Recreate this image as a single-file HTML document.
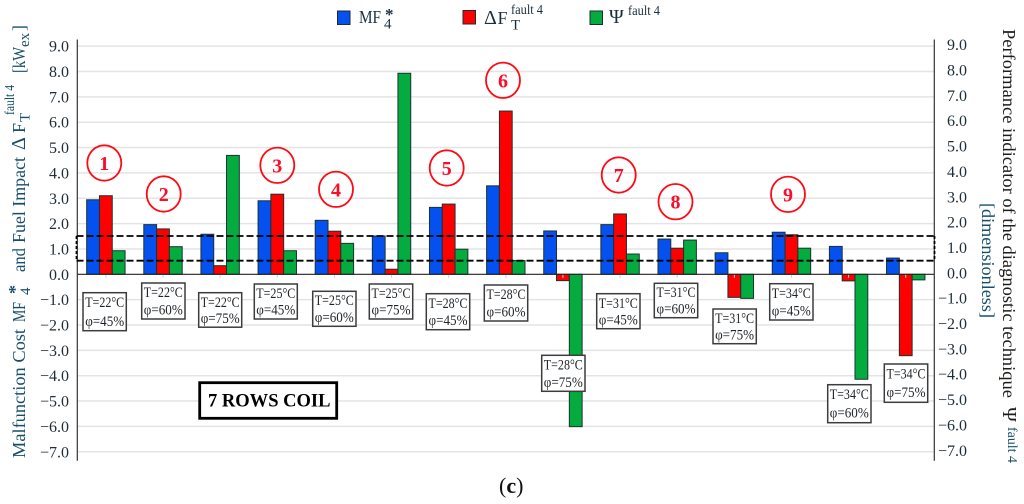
<!DOCTYPE html>
<html>
<head>
<meta charset="utf-8">
<title>7 Rows Coil Chart</title>
<style>
html,body{margin:0;padding:0;background:#fff;width:1024px;height:504px;overflow:hidden}
svg{display:block;font-family:"Liberation Serif",serif}
.lb text{font-size:15px;fill:#1f2429;text-anchor:middle}
.lb rect{fill:#fff;stroke:#3c3c3c;stroke-width:1.5}
.circ ellipse{fill:#fff;fill-opacity:0;stroke:#ff0a14;stroke-width:1.8}
.circ text{font-size:20px;font-weight:bold;fill:#ff0a28;text-anchor:middle}
.t{fill:#174e6c;font-size:18px}
.r{fill:#1f1d1a;font-size:18px}
</style>
</head>
<body>
<svg id="chart" width="1024" height="504" viewBox="0 0 1024 504" xmlns="http://www.w3.org/2000/svg">
  <g id="grid"></g>
  <g id="bars"></g>
  <g id="axes"></g>

  <g fill="none" stroke="#000" stroke-width="1.8" stroke-dasharray="7 3">
    <line x1="76.5" y1="236" x2="934.5" y2="236"/>
    <line x1="76.5" y1="260.7" x2="934.5" y2="260.7"/>
    <line x1="76.5" y1="236" x2="76.5" y2="260.7" stroke-dasharray="3 2"/>
    <line x1="934.5" y1="236" x2="934.5" y2="260.7" stroke-dasharray="3 2"/>
  </g>

  <g>
    <g class="lb"><rect x="83" y="292.7" width="43.3" height="38"/><text x="104.7" y="307" textLength="39" lengthAdjust="spacingAndGlyphs">T=22°C</text><text x="104.7" y="326" textLength="39" lengthAdjust="spacingAndGlyphs">φ=45%</text></g>
    <g class="lb"><rect x="141.7" y="283" width="43.3" height="36"/><text x="163.3" y="297" textLength="39" lengthAdjust="spacingAndGlyphs">T=22°C</text><text x="163.3" y="314.5" textLength="39" lengthAdjust="spacingAndGlyphs">φ=60%</text></g>
    <g class="lb"><rect x="198.7" y="292.7" width="43" height="34.5"/><text x="220.2" y="307" textLength="39" lengthAdjust="spacingAndGlyphs">T=22°C</text><text x="220.2" y="323" textLength="39" lengthAdjust="spacingAndGlyphs">φ=75%</text></g>
    <g class="lb"><rect x="254.3" y="284" width="43" height="35"/><text x="275.8" y="298" textLength="39" lengthAdjust="spacingAndGlyphs">T=25°C</text><text x="275.8" y="314.5" textLength="39" lengthAdjust="spacingAndGlyphs">φ=45%</text></g>
    <g class="lb"><rect x="312.7" y="291.3" width="43.3" height="35"/><text x="334.3" y="305" textLength="39" lengthAdjust="spacingAndGlyphs">T=25°C</text><text x="334.3" y="322" textLength="39" lengthAdjust="spacingAndGlyphs">φ=60%</text></g>
    <g class="lb"><rect x="369.3" y="284" width="43.4" height="35"/><text x="391" y="298" textLength="39" lengthAdjust="spacingAndGlyphs">T=25°C</text><text x="391" y="314.5" textLength="39" lengthAdjust="spacingAndGlyphs">φ=75%</text></g>
    <g class="lb"><rect x="426.3" y="293.7" width="43.4" height="36"/><text x="448" y="308" textLength="39" lengthAdjust="spacingAndGlyphs">T=28°C</text><text x="448" y="325" textLength="39" lengthAdjust="spacingAndGlyphs">φ=45%</text></g>
    <g class="lb"><rect x="484.3" y="285" width="43.4" height="36"/><text x="506" y="299" textLength="39" lengthAdjust="spacingAndGlyphs">T=28°C</text><text x="506" y="316.5" textLength="39" lengthAdjust="spacingAndGlyphs">φ=60%</text></g>
    <g class="lb"><rect x="541.7" y="355.3" width="43.3" height="36"/><text x="563.3" y="369.5" textLength="39" lengthAdjust="spacingAndGlyphs">T=28°C</text><text x="563.3" y="387" textLength="39" lengthAdjust="spacingAndGlyphs">φ=75%</text></g>
    <g class="lb"><rect x="596.7" y="293.7" width="43.3" height="35"/><text x="618.3" y="308" textLength="39" lengthAdjust="spacingAndGlyphs">T=31°C</text><text x="618.3" y="324.5" textLength="39" lengthAdjust="spacingAndGlyphs">φ=45%</text></g>
    <g class="lb"><rect x="654.3" y="283.3" width="43.4" height="34.4"/><text x="676" y="297" textLength="39" lengthAdjust="spacingAndGlyphs">T=31°C</text><text x="676" y="313.5" textLength="39" lengthAdjust="spacingAndGlyphs">φ=60%</text></g>
    <g class="lb"><rect x="713" y="309" width="43.3" height="34.7"/><text x="734.6" y="323" textLength="39" lengthAdjust="spacingAndGlyphs">T=31°C</text><text x="734.6" y="339.5" textLength="39" lengthAdjust="spacingAndGlyphs">φ=75%</text></g>
    <g class="lb"><rect x="769.7" y="283.7" width="43.3" height="36.3"/><text x="791.3" y="298" textLength="39" lengthAdjust="spacingAndGlyphs">T=34°C</text><text x="791.3" y="315.5" textLength="39" lengthAdjust="spacingAndGlyphs">φ=45%</text></g>
    <g class="lb"><rect x="827.7" y="384.7" width="43.3" height="38"/><text x="849.3" y="399" textLength="39" lengthAdjust="spacingAndGlyphs">T=34°C</text><text x="849.3" y="417.5" textLength="39" lengthAdjust="spacingAndGlyphs">φ=60%</text></g>
    <g class="lb"><rect x="884.3" y="364" width="43.4" height="38.3"/><text x="906" y="378.5" textLength="39" lengthAdjust="spacingAndGlyphs">T=34°C</text><text x="906" y="397" textLength="39" lengthAdjust="spacingAndGlyphs">φ=75%</text></g>
  </g>

  <g>
    <g class="circ"><ellipse cx="104.3" cy="163" rx="17" ry="17.7"/><text x="104.3" y="170">1</text></g>
    <g class="circ"><ellipse cx="163.7" cy="194" rx="17" ry="17.7"/><text x="163.7" y="201">2</text></g>
    <g class="circ"><ellipse cx="277.3" cy="165.3" rx="17" ry="17.7"/><text x="277.3" y="172.3">3</text></g>
    <g class="circ"><ellipse cx="336" cy="189.3" rx="17" ry="17.7"/><text x="336" y="196.3">4</text></g>
    <g class="circ"><ellipse cx="446.7" cy="168" rx="17" ry="17.7"/><text x="446.7" y="175">5</text></g>
    <g class="circ"><ellipse cx="503" cy="80.3" rx="17" ry="17.7"/><text x="503" y="87.3">6</text></g>
    <g class="circ"><ellipse cx="618.7" cy="175" rx="17" ry="17.7"/><text x="618.7" y="182">7</text></g>
    <g class="circ"><ellipse cx="675.5" cy="201.7" rx="17" ry="17.7"/><text x="675.5" y="208.7">8</text></g>
    <g class="circ"><ellipse cx="788" cy="194.3" rx="17" ry="17.7"/><text x="788" y="201.3">9</text></g>
  </g>

  <g>
    <rect x="199.7" y="382.7" width="137" height="35.6" fill="#fff" stroke="#000" stroke-width="2.8"/>
    <text x="208" y="406.7" font-size="19" font-weight="bold" fill="#000" textLength="122.5" lengthAdjust="spacingAndGlyphs">7 ROWS COIL</text>
  </g>

  <g fill="#1a2f3e">
    <g>
      <rect x="337.5" y="11" width="12.5" height="13.5" fill="#0451f0" stroke="#1a3030"/>
      <text x="359" y="23" font-size="18" textLength="22" lengthAdjust="spacingAndGlyphs">MF</text>
      <text x="385" y="20" font-size="17" font-weight="bold">*</text>
      <text x="384" y="28.7" font-size="15">4</text>
    </g>
    <g>
      <rect x="463" y="10.5" width="12.5" height="13.5" fill="#ff0000" stroke="#1a3030"/>
      <text x="484" y="24" font-size="20">Δ</text>
      <text x="497.5" y="24" font-size="18">F</text>
      <text x="511" y="14" font-size="14" textLength="32" lengthAdjust="spacingAndGlyphs">fault 4</text>
      <text x="511" y="29.3" font-size="15">T</text>
    </g>
    <g>
      <rect x="590" y="11" width="12.5" height="13.5" fill="#04ab3e" stroke="#1a3030"/>
      <text x="609" y="23" font-size="20">Ψ</text>
      <text x="628" y="15" font-size="14" textLength="32" lengthAdjust="spacingAndGlyphs">fault 4</text>
    </g>
  </g>

  <g>
    <text class="t" transform="translate(25,458) rotate(-90)" textLength="129" lengthAdjust="spacingAndGlyphs">Malfunction Cost</text>
    <text class="t" transform="translate(25,322) rotate(-90)" textLength="20" lengthAdjust="spacingAndGlyphs">MF</text>
    <text class="t" transform="translate(21,294) rotate(-90)" style="font-weight:bold">*</text>
    <text class="t" transform="translate(30,295) rotate(-90)" style="font-size:15px">4</text>
    <text class="t" transform="translate(25,272) rotate(-90)" textLength="24" lengthAdjust="spacingAndGlyphs">and</text>
    <text class="t" transform="translate(25,243) rotate(-90)" textLength="86" lengthAdjust="spacingAndGlyphs">Fuel Impact</text>
    <text class="t" transform="translate(25,150) rotate(-90)" style="font-size:20px">Δ</text>
    <text class="t" transform="translate(25,133) rotate(-90)">F</text>
    <text class="t" transform="translate(14,115) rotate(-90)" style="font-size:14px" textLength="30" lengthAdjust="spacingAndGlyphs">fault 4</text>
    <text class="t" transform="translate(29.5,122) rotate(-90)" style="font-size:15px">T</text>
    <text class="t" transform="translate(25,73) rotate(-90)" textLength="26" lengthAdjust="spacingAndGlyphs">[kW</text>
    <text class="t" transform="translate(29,47) rotate(-90)" style="font-size:15px">ex</text>
    <text class="t" transform="translate(25,31) rotate(-90)">]</text>
  </g>

  <g>
    <text class="r" transform="translate(1003,29) rotate(90)" textLength="369" lengthAdjust="spacingAndGlyphs">Performance indicator of the diagnostic technique</text>
    <text class="t" transform="translate(982,203) rotate(90)" textLength="115" lengthAdjust="spacingAndGlyphs">[dimensionless]</text>
    <text class="r" transform="translate(1003,407) rotate(90)" style="font-size:20px">Ψ</text>
    <text class="t" transform="translate(1008,427) rotate(90)" style="font-size:14px" textLength="36" lengthAdjust="spacingAndGlyphs">fault 4</text>
  </g>

  <g>
    <text x="499" y="493" font-size="22" fill="#111">(<tspan font-weight="bold">c</tspan>)</text>
  </g>
</svg>

<script>
const categories = ["T22 H45","T22 H60","T22 H75","T25 H45","T25 H60","T25 H75","T28 H45","T28 H60","T28 H75","T31 H45","T31 H60","T31 H75","T34 H45","T34 H60","T34 H75"];
const mfValues  = [2.94,1.96,1.58,2.90,2.13,1.51,2.64,3.49,1.71,1.96,1.39,0.85,1.66,1.10,0.64];
const dfValues  = [3.10,1.79,0.34,3.16,1.70,0.20,2.77,6.44,-0.25,2.38,1.03,-0.91,1.56,-0.26,-3.21];
const psiValues = [0.93,1.09,4.69,0.93,1.22,7.93,0.99,0.54,-6.01,0.80,1.35,-0.95,1.03,-4.14,-0.22];
const tickValues = [9,8,7,6,5,4,3,2,1,0,-1,-2,-3,-4,-5,-6,-7];

const NS = "http://www.w3.org/2000/svg";
const plotLeft = 77.3, plotRight = 934.3, zeroY = 274.3, unitPx = 25.35, barW = 12.8;
function xScale(i){ return plotLeft + (i + 0.5) * (plotRight - plotLeft) / categories.length; }
function yScale(v){ return zeroY - v * unitPx; }
function make(tag, attrs, parent){
  const el = document.createElementNS(NS, tag);
  for (const k in attrs) el.setAttribute(k, attrs[k]);
  parent.appendChild(el);
  return el;
}
function fmt(v){ return (v < 0 ? "\u2212" : "") + Math.abs(v).toFixed(1); }

const gridG = document.getElementById("grid");
const axesG = document.getElementById("axes");
const barsG = document.getElementById("bars");

tickValues.forEach(function(v){
  if (v !== 0) {
    const g = make("line", {x1: plotLeft, x2: plotRight, y1: yScale(v), y2: yScale(v), stroke: "#e4e4e4", "stroke-width": 1.5}, gridG);
    
    
  }
  const l = make("text", {x: 69, y: yScale(v) + 5.5, "text-anchor": "end", "font-size": 16, fill: "#1e2c36"}, axesG);
  l.textContent = fmt(v);
  
  
  const r = make("text", {x: 967, y: yScale(v) + 4, "text-anchor": "end", "font-size": 16, fill: "#1e2c36"}, axesG);
  r.textContent = fmt(v);
  
  
});

const seriesList = [
  {values: mfValues,  color: "#0451f0", key: 0},
  {values: dfValues,  color: "#ff0000", key: 1},
  {values: psiValues, color: "#04ab3e", key: 2}
];
seriesList.forEach(function(s){
  s.values.forEach(function(v, i){
    const top = Math.min(yScale(v), yScale(0));
    const h = Math.abs(yScale(v) - yScale(0));
    const b = make("rect", {x: xScale(i) + (s.key - 1.5) * barW, y: top, width: barW, height: h, fill: s.color, stroke: "#1c3232", "stroke-width": 1}, barsG);
    
    
  });
});

categories.forEach(function(c, i){
  const t = make("line", {x1: xScale(i), x2: xScale(i), y1: zeroY, y2: zeroY + 3.5, stroke: "#cfcfcf", "stroke-width": 1}, axesG);
  
  
});

const zeroLine = make("line", {x1: plotLeft, x2: plotRight, y1: zeroY, y2: zeroY, stroke: "#222", "stroke-width": 1.1}, axesG);


const leftAxis = make("line", {x1: plotLeft, x2: plotLeft, y1: 39.5, y2: 460.7, stroke: "#333", "stroke-width": 1.2}, axesG);


const rightAxis = make("line", {x1: plotRight, x2: plotRight, y1: 39.5, y2: 460.7, stroke: "#333", "stroke-width": 1.2}, axesG);


</script>
</body>
</html>
